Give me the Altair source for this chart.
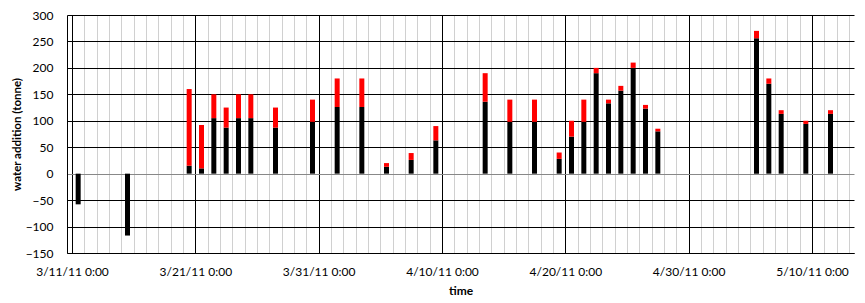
import altair as alt
import pandas as pd

# ---- data ----
dates = ["2011-03-11", "2011-03-15", "2011-03-20", "2011-03-21", "2011-03-22",
         "2011-03-23", "2011-03-24", "2011-03-25", "2011-03-27", "2011-03-30",
         "2011-04-01", "2011-04-03", "2011-04-05", "2011-04-07", "2011-04-09",
         "2011-04-13", "2011-04-15", "2011-04-17", "2011-04-19", "2011-04-20",
         "2011-04-21", "2011-04-22", "2011-04-23", "2011-04-24", "2011-04-25",
         "2011-04-26", "2011-04-27", "2011-05-05", "2011-05-06", "2011-05-07",
         "2011-05-09", "2011-05-11"]
black_vals = [-58, -117, 15, 10, 105, 87, 105, 105, 87, 98,
              126, 126, 13, 26, 63, 136, 98, 98, 28, 70,
              98, 190, 133, 157, 200, 123, 80, 256, 170, 113,
              94, 113]
red_vals = [0, 0, 145, 82, 45, 38, 45, 45, 38, 42,
            54, 54, 7, 13, 27, 54, 42, 42, 12, 30,
            42, 10, 7, 9, 10, 7, 5, 14, 10, 7,
            6, 7]
x_tick_labels = ["3/11/11 0:00", "3/21/11 0:00", "3/31/11 0:00", "4/10/11 0:00",
                 "4/20/11 0:00", "4/30/11 0:00", "5/10/11 0:00"]
y_ticks = [-150, -100, -50, 0, 50, 100, 150, 200, 250, 300]
series_names = ["black", "red"]
series_colors = ["#000000", "#ff0000"]

start = pd.Timestamp("2011-03-11")
n_days = 63  # axis runs 3/11 .. 5/13

rows = []
for d, b, r in zip(dates, black_vals, red_vals):
    day = (pd.Timestamp(d) - start).days + 0.5
    rows.append({"day": day, "series": "black", "ord": 0, "value": b})
    rows.append({"day": day, "series": "red", "ord": 1, "value": r})
df = pd.DataFrame(rows)

label_array = "[" + ",".join("'" + s + "'" for s in x_tick_labels) + "]"
x_label_expr = f"datum.value % 10 == 0 ? {label_array}[datum.value / 10] : ''"

FONT = "Lato"

chart = alt.Chart(df).mark_bar(size=5).encode(
    x=alt.X("day:Q",
            scale=alt.Scale(domain=[0, n_days], nice=False, zero=False),
            axis=alt.Axis(values=list(range(0, n_days + 1)),
                          labelExpr=x_label_expr,
                          labelOverlap=False, labelFlush=False,
                          grid=True,
                          gridColor={"condition": {"test": "datum.value % 10 == 0", "value": "#000000"},
                                     "value": "#d0d0d0"},
                          gridWidth=1,
                          ticks=False, domainColor="#000000",
                          labelFont=FONT, labelFontSize=12, labelColor="#000000",
                          labelPadding=13,
                          title="time", titleFont=FONT, titleFontSize=12,
                          titleFontWeight="bold", titleColor="#000000",
                          titlePadding=8)),
    y=alt.Y("value:Q",
            stack="zero",
            scale=alt.Scale(domain=[-150, 300], nice=False, zero=False),
            axis=alt.Axis(values=y_ticks, grid=True,
                          gridColor={"condition": {"test": "datum.value == 0", "value": "#888888"},
                                     "value": "#000000"},
                          gridWidth=1, ticks=False, domainColor="#000000",
                          labelFont=FONT, labelFontSize=12, labelColor="#000000",
                          labelPadding=14,
                          title="water addition (tonne)", titleFont=FONT,
                          titleFontSize=11.5, titleFontWeight="bold",
                          titleColor="#000000", titlePadding=3)),
    color=alt.Color("series:N", scale=alt.Scale(domain=series_names, range=series_colors),
                    legend=None),
    order=alt.Order("ord:Q"),
).properties(
    width=787, height=238,
    autosize=alt.AutoSizeParams(type="none"),
    padding={"left": 59, "top": 7, "right": 3, "bottom": 48},
).configure_view(strokeWidth=0)

chart.save("out.html", embed_options={"renderer": "svg", "actions": False})
